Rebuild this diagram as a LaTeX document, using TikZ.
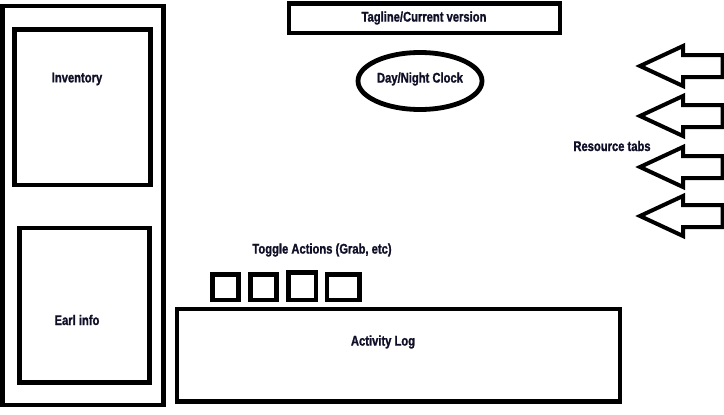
\documentclass[tikz,border=0pt]{standalone}
\usepackage{fontspec}
\setmainfont{Liberation Sans}[FakeStretch=0.8,BoldFeatures={FakeBold=1.2}]
\definecolor{txt}{RGB}{15,15,40}
\begin{document}
\begin{tikzpicture}[x=0.75pt,y=-0.75pt,
  box/.style={draw=black,line width=3.6pt},
  lbl/.style={font=\fontsize{10.5}{11}\selectfont\bfseries,text=txt,inner sep=0pt},
  tab/.style={draw=black,line width=3pt,line join=miter}]
\useasboundingbox (0,0) rectangle (724,414);
\fill[white] (0,0) rectangle (724,414);
% left panel
\draw[box] (2.5,6) rectangle (163.5,405);
\draw[box] (14.5,29.5) rectangle (150.5,185);
\draw[box] (19.5,228) rectangle (149.5,382.5);
\node[lbl] (inv) at (77,79) {Inventory};
\node[lbl] (earl) at (77,320) {Earl info};
% top
\draw[box] (289,3.5) rectangle (560,33);
\node[lbl] (tag) at (424,18) {Tagline/Current version};
\draw[box] (420,81) ellipse [x radius=62, y radius=28.5];
\node[lbl] (clock) at (420,79) {Day/Night Clock};
% toggles
\node[lbl] (tog) at (322,250) {Toggle Actions (Grab, etc)};
\draw[box] (212.5,274.5) rectangle (238.5,300);
\draw[box] (250.5,274.5) rectangle (276.5,300);
\draw[box] (288.5,272.5) rectangle (316,300);
\draw[box] (327,274.5) rectangle (359.5,300);
% activity log
\draw[box] (177,309) rectangle (620,401.5);
\node[lbl] (log) at (383,342) {Activity Log};
% resource tabs
\node[lbl] (res) at (612,146) {Resource tabs};
\foreach \yy in {66,116,167,216}{
  \draw[tab] (640,\yy) -- (683,\yy-20) -- (683,\yy-11) -- (722.5,\yy-11)
    -- (722.5,\yy+11) -- (683,\yy+11) -- (683,\yy+20) -- cycle;
}
\end{tikzpicture}
\end{document}
